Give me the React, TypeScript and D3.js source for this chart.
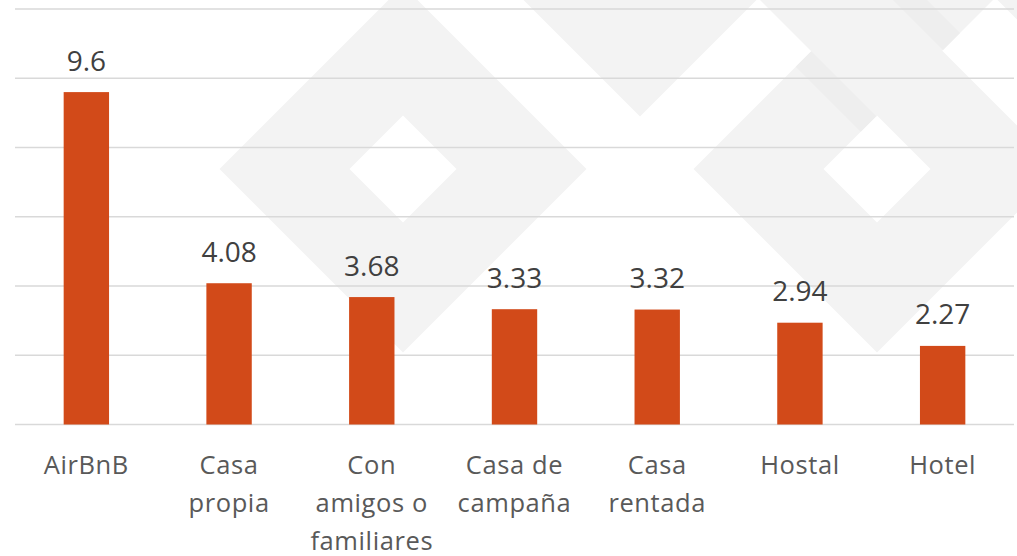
import React, { useRef, useEffect } from "react";
import * as d3 from "d3";

// chart data
const categories = ["AirBnB", "Casa propia", "Con amigos o familiares", "Casa de campaña", "Casa rentada", "Hostal", "Hotel"];
const values = [9.6, 4.08, 3.68, 3.33, 3.32, 2.94, 2.27];
const tickLabels = [["AirBnB"], ["Casa", "propia"], ["Con", "amigos o", "familiares"], ["Casa de", "campaña"], ["Casa", "rentada"], ["Hostal"], ["Hotel"]];
const yTicks = [0, 2, 4, 6, 8, 10, 12];

// background watermark: diamond rings, [cx, cy]
const rings = [[403, 169], [877, 169], [640, -67], [876.5, -67], [1114, -67]];

const App = () => {
    const ref = useRef<SVGSVGElement>(null);

    useEffect(() => {
        const width = 1017;
        const height = 556;
        const left = 15;
        const right = 1014;
        const barColor = "#D24A19";
        const gridColor = "#d9d9d9";
        const valueColor = "#404040";
        const labelColor = "#595959";
        const font = "'Open Sans', sans-serif";

        const svg = d3.select(ref.current)
            .attr("width", width)
            .attr("height", height);
        svg.selectAll("*").remove();

        svg.append("rect").attr("width", width).attr("height", height).attr("fill", "#ffffff");

        // watermark rings (diamond with a diamond hole), drawn with evenodd
        const outerR = 183.5;
        const innerR = 53.5;
        const diamond = (cx, cy, r) => `M${cx},${cy - r}L${cx + r},${cy}L${cx},${cy + r}L${cx - r},${cy}Z`;
        const wm = svg.append("g").attr("class", "watermark");
        wm.selectAll("path.ring")
            .data(rings)
            .enter()
            .append("path")
            .attr("class", "ring")
            .attr("fill-rule", "evenodd")
            .attr("fill", "#f3f3f3")
            .attr("d", d => diamond(d[0], d[1], outerR) + diamond(d[0], d[1], innerR));

        // shadow strips where the ribbons cross (u = x + y, v = x - y)
        const uvPoly = pts => "M" + pts.map(([u, v]) => `${(u + v) / 2},${(u - v) / 2}`).join("L") + "Z";
        const shadows = [
            [[862.5, 729], [992.5, 729], [992.5, 760], [862.5, 760]],
            [[700, 893], [993, 893], [993, 927], [700, 927]]
        ];
        wm.selectAll("path.shadow")
            .data(shadows)
            .enter()
            .append("path")
            .attr("class", "shadow")
            .attr("fill", "#eeeeee")
            .attr("d", uvPoly);

        // scales
        const x = d3.scaleBand()
            .domain(categories)
            .range([left, right])
            .paddingInner(0.682)
            .paddingOuter(0.341);

        const y = d3.scaleLinear()
            .domain([0, 12])
            .range([424.5, 9]);

        // gridlines
        svg.append("g")
            .selectAll("line")
            .data(yTicks)
            .enter()
            .append("line")
            .attr("x1", left)
            .attr("x2", right)
            .attr("y1", d => y(d))
            .attr("y2", d => y(d))
            .attr("stroke", gridColor)
            .attr("stroke-width", 1.5);

        // bars
        svg.append("g")
            .selectAll("rect")
            .data(values)
            .enter()
            .append("rect")
            .attr("x", (d, i) => x(categories[i]))
            .attr("width", x.bandwidth())
            .attr("y", d => y(d))
            .attr("height", d => y(0) - y(d))
            .attr("fill", barColor);

        // value labels
        svg.append("g")
            .selectAll("text")
            .data(values)
            .enter()
            .append("text")
            .attr("x", (d, i) => x(categories[i]) + x.bandwidth() / 2)
            .attr("y", d => y(d) - 21.5)
            .attr("text-anchor", "middle")
            .style("font-family", font)
            .style("font-size", "28px")
            .style("fill", valueColor)
            .text(d => String(d));

        // category labels
        const cat = svg.append("g")
            .selectAll("text")
            .data(categories)
            .enter()
            .append("text")
            .attr("text-anchor", "middle")
            .style("font-family", font)
            .style("font-size", "25.5px")
            .style("letter-spacing", "0.6px")
            .style("fill", labelColor);

        cat.selectAll("tspan")
            .data((d, i) => tickLabels[i].map(line => ({ line, cx: x(d) + x.bandwidth() / 2 })))
            .enter()
            .append("tspan")
            .attr("x", d => d.cx)
            .attr("y", (d, j) => 474 + j * 38)
            .text(d => d.line);
    }, []);

    return (
        <div style={{ position: "absolute", left: 0, top: 0 }}>
            <svg ref={ref} style={{ display: "block" }}></svg>
        </div>
    );
};

export default App;
